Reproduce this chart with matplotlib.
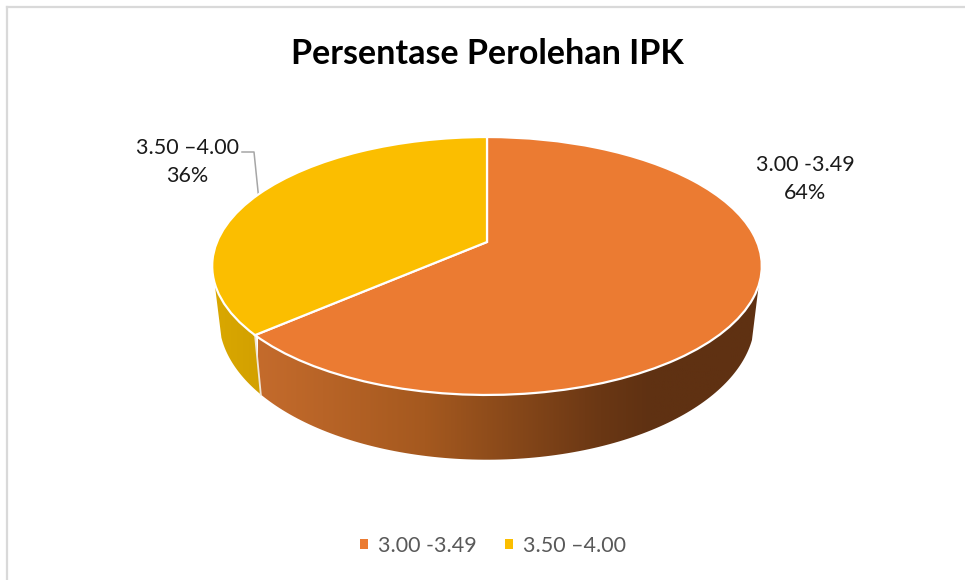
import numpy as np
import matplotlib
matplotlib.use("Agg")
import matplotlib.pyplot as plt
from matplotlib.patches import Polygon
from matplotlib.colors import LinearSegmentedColormap
from matplotlib.transforms import Transform

plt.rcParams['font.family'] = ['Lato', 'DejaVu Sans']

# --- data ---
categories = ['3.00 -3.49', '3.50 \u20134.00']
shares = [63.6, 36.4]
slice_colors = ['#EB7B32', '#FBBE00']
title_text = 'Persentase Perolehan IPK'


class Tilt(Transform):
    """Perspective view of the unit-circle pie, into pixel-like axes units."""
    input_dims = output_dims = 2

    def __init__(self, ax_, ay_, sx=1.0, sy=1.0):
        super().__init__()
        self.ax_, self.ay_, self.sx, self.sy = ax_, ay_, sx, sy

    def transform_non_affine(self, v):
        v = np.asarray(v, float)
        k = 0.186
        d = 1 + k * v[:, 1]
        return np.column_stack([self.ax_ + self.sx * 270 * v[:, 0] / d,
                                self.ay_ - self.sy * 124.5 * v[:, 1] / d])


fig = plt.figure(figsize=(9.65, 5.8), dpi=100)
ax = fig.add_axes([0, 0, 1, 1])
top_view = Tilt(487, 242)
base_view = Tilt(487, 293, sx=0.975, sy=1.09)

wedges, _ = ax.pie(shares, colors=slice_colors, startangle=90, counterclock=False,
                   wedgeprops=dict(edgecolor='white', linewidth=1.6))
ax.set_aspect('auto')
ax.axis('off')

for w in wedges:
    w.set_transform(top_view + ax.transData)
    w.set_zorder(5)

# --- side wall ---
bound = 90 - 3.6 * shares[0]  # angle of the slice boundary facing the viewer


def wall_polygon(t0, t1):
    th = np.radians(np.linspace(t0, t1, 120))
    circ = np.column_stack([np.cos(th), np.sin(th)])
    return np.vstack([top_view.transform_non_affine(circ),
                      base_view.transform_non_affine(circ)[::-1]])


orange_wall = LinearSegmentedColormap.from_list(
    'ow', [(0, '#C46B2C'), (0.33, '#A5591F'), (0.68, '#6A3714'), (0.78, '#5F3112'), (1, '#5F3112')])
yellow_wall = LinearSegmentedColormap.from_list('yw', ['#DAA800', '#D2A000'])

g = np.linspace(0, 1, 256).reshape(1, -1)
for poly, cmap, ext in [(wall_polygon(bound - 23, bound), yellow_wall, (212, 262)),
                        (wall_polygon(bound, -19), orange_wall, (258, 762))]:
    patch = Polygon(poly, closed=True, facecolor='none', edgecolor='none', zorder=2)
    ax.add_patch(patch)
    im = ax.imshow(g, cmap=cmap, extent=(ext[0], ext[1], 470, 270), aspect='auto', zorder=2)
    im.set_clip_path(patch)
ax.set_xlim(0, 965)
ax.set_ylim(580, 0)

c = np.array([[np.cos(np.radians(bound)), np.sin(np.radians(bound))]])
p0 = top_view.transform_non_affine(c)[0]
p1 = base_view.transform_non_affine(c)[0]
ax.plot([p0[0], p1[0]], [p0[1], p1[1]], color='#EFE6D8', lw=1.3, zorder=3)

# --- chart frame ---
ax.plot([7, 7], [580, 7], color='#D9D9D9', lw=1.6, zorder=1, clip_on=False)
ax.plot([7, 965], [7, 7], color='#D9D9D9', lw=1.6, zorder=1, clip_on=False)

# --- texts ---
ax.text(487.5, 54, title_text, ha='center', va='center', fontsize=24.5,
        fontweight='bold', color='black')
ax.text(805, 179, f'{categories[0]}\n{round(shares[0])}%', ha='center', va='center',
        fontsize=15.5, color='#1A1A1A', linespacing=1.5, zorder=6)
ax.text(187, 162, f'{categories[1]}\n{round(shares[1])}%', ha='center', va='center',
        fontsize=15.5, color='#1A1A1A', linespacing=1.5, zorder=6)
ax.plot([242, 254, 258.5], [152, 152, 196], color='#A6A6A6', lw=1.1, zorder=4)

leg = ax.legend(wedges, categories, ncol=2, loc='center',
                bbox_to_anchor=(493 / 965, 1 - 546 / 580), frameon=False, fontsize=15.5,
                handlelength=0.36, handleheight=0.36, handletextpad=0.47, columnspacing=1.3,
                labelcolor='#595959', borderpad=0)
for h in leg.legend_handles:
    h.set_edgecolor('none')

fig.savefig('out.png', dpi=100)
